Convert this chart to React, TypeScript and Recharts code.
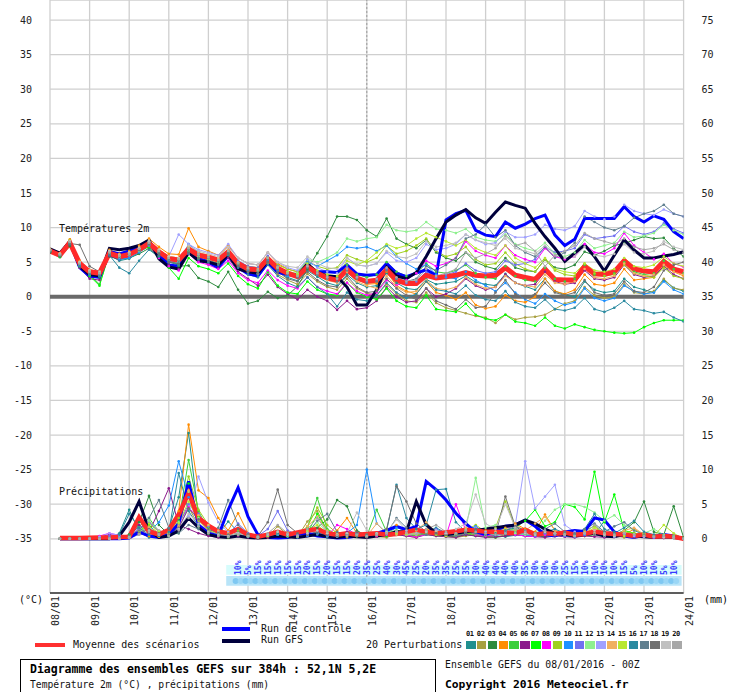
import React from 'react';
import { ComposedChart, Line, XAxis, YAxis, CartesianGrid, ReferenceLine, ReferenceArea } from 'recharts';

// 6-hourly steps from 08/01 00Z to 24/01 00Z (65 steps)
const dayLabels = ['08/01', '09/01', '10/01', '11/01', '12/01', '13/01', '14/01', '15/01', '16/01',
  '17/01', '18/01', '19/01', '20/01', '21/01', '22/01', '23/01', '24/01'];

const tempTicks = [-35, -30, -25, -20, -15, -10, -5, 0, 5, 10, 15, 20, 25, 30, 35, 40];
const rainTicks = [0, 5, 10, 15, 20, 25, 30, 35, 40, 45, 50, 55, 60, 65, 70, 75];

// temperature 2m, one value per step
const meanTemp = [6.6, 6.0, 7.8, 4.8, 3.6, 3.4, 6.3, 5.8, 6.1, 6.8, 7.7, 6.5, 5.5, 5.3, 6.9, 6.0,
  5.7, 5.3, 6.5, 4.8, 4.0, 3.9, 5.5, 4.1, 3.4, 2.9, 4.3, 3.4, 2.7, 2.4, 3.9, 2.7,
  2.2, 2.4, 3.9, 2.4, 1.9, 1.9, 3.1, 2.7, 2.9, 3.1, 3.5, 3.1, 3.0, 3.1, 4.2, 3.1,
  2.8, 2.5, 4.0, 2.5, 2.4, 2.4, 4.4, 3.3, 3.2, 3.6, 5.2, 4.0, 3.7, 3.6, 5.1, 4.0, 3.6];
const controlTemp = [6.8, 6.2, 7.9, 4.2, 3.0, 2.8, 6.5, 6.2, 6.6, 7.2, 8.0, 6.0, 4.6, 4.4, 6.7, 5.5,
  5.0, 4.2, 6.0, 4.2, 3.3, 3.0, 5.0, 3.5, 3.2, 3.0, 4.2, 3.6, 3.6, 3.5, 4.6, 3.3,
  3.1, 3.2, 4.8, 3.4, 2.9, 3.4, 3.9, 3.1, 11.1, 12.0, 12.5, 9.6, 8.9, 8.7, 10.8, 9.9,
  10.5, 11.3, 11.8, 8.9, 7.4, 8.3, 11.3, 11.3, 11.3, 11.3, 13.0, 11.6, 10.8, 11.7, 11.2, 9.4, 8.4];
const gfsTemp = [6.9, 6.3, 8.0, 4.4, 3.2, 3.0, 7.0, 6.8, 7.0, 7.4, 8.2, 5.5, 4.3, 4.0, 6.4, 5.2,
  5.0, 4.6, 6.1, 4.0, 3.6, 3.4, 5.2, 3.9, 3.3, 3.1, 4.7, 3.5, 3.0, 2.9, 1.4, -1.2,
  -1.2, 1.0, 4.3, 3.0, 2.6, 3.5, 5.8, 8.4, 10.8, 11.8, 12.6, 11.4, 10.6, 12.2, 13.7, 13.2,
  12.8, 10.6, 8.7, 7.0, 5.1, 6.3, 7.5, 5.8, 3.7, 6.0, 8.2, 6.75, 5.6, 5.6, 5.9, 6.1, 6.5];

// perturbations 01..20
const memberTemp = [
  [6.5, 5.9, 7.5, 4.3, 3.2, 3.0, 6.0, 5.2, 5.5, 6.4, 7.4, 6.0, 5.0, 4.8, 6.5, 5.6, 5.3, 4.8, 6.0, 4.3, 3.5, 3.2, 5.0, 3.6, 2.8, 2.3, 3.8, 2.9, 2.0, 1.6, 3.2, 2.0, 1.4, 1.6, 3.4, 2.0, 1.2, 1.0, 2.5, 1.8, 2.0, 2.2, 3.0, 2.1, 1.8, 1.6, 3.3, 2.0, 1.5, 1.0, 2.6, 0.8, 0.3, 0.0, 2.2, 1.0, 0.6, 0.8, 2.6, 1.4, 1.0, 0.6, 2.4, 1.3, 0.8],
  [6.7, 6.1, 7.7, 4.6, 3.4, 3.3, 6.1, 5.6, 6.0, 6.6, 7.6, 6.4, 5.4, 5.2, 6.8, 5.9, 5.6, 5.0, 6.2, 4.5, 3.6, 3.3, 4.8, 3.2, 2.4, 1.8, 3.3, 2.2, 1.4, 1.0, 2.6, 1.2, 0.5, 0.2, 1.8, 0.4, -0.6, -0.8, 0.6, -0.9, -1.6, -2.0, -2.4, -2.8, -3.0, -3.8, -2.6, -3.3, -3.0, -2.9, -2.6, -1.8, -1.0, -0.6, 1.4, 0.2, -0.2, 0.0, 1.8, 0.6, 0.4, 0.8, 2.6, 1.2, 1.0],
  [6.4, 5.7, 7.3, 4.4, 3.0, 2.8, 5.8, 5.4, 5.6, 6.2, 7.0, 5.6, 4.6, 4.4, 4.5, 2.7, 2.2, 1.4, 3.6, 1.0, -1.0, -0.6, 0.7, -0.2, 0.2, 1.5, 4.0, 6.3, 8.7, 11.6, 11.6, 11.1, 9.6, 8.7, 11.3, 8.4, 7.6, 7.0, 8.2, 6.4, 5.6, 5.2, 6.4, 5.0, 4.4, 4.0, 5.6, 4.2, 3.8, 3.6, 5.4, 4.2, 4.0, 4.6, 6.5, 6.0, 6.6, 7.4, 7.7, 8.2, 8.7, 8.4, 8.5, 7.0, 5.8],
  [6.9, 6.3, 8.3, 5.2, 3.9, 3.6, 6.8, 6.2, 6.6, 7.4, 8.4, 7.2, 6.2, 6.1, 9.9, 7.2, 6.6, 6.0, 7.4, 5.6, 4.8, 4.6, 6.4, 4.8, 4.0, 3.6, 5.0, 3.6, 2.8, 2.6, 4.2, 2.6, 1.8, 1.9, 3.6, 1.6, 0.8, 0.4, 2.2, 0.6, 0.2, -0.4, 0.6, -1.2, -1.7, -1.4, 0.2, -0.6, -0.8, 0.0, 2.6, 0.8, 0.4, 1.0, 3.2, 1.8, 1.6, 2.0, 4.0, 2.4, 2.6, 2.8, 4.4, 3.6, 3.0],
  [6.6, 6.0, 8.0, 4.6, 3.2, 1.8, 6.2, 5.8, 6.0, 6.8, 7.8, 6.4, 5.2, 4.6, 6.6, 5.6, 5.2, 4.8, 6.2, 4.6, 3.8, 3.6, 5.6, 4.0, 3.4, 3.0, 4.9, 3.6, 3.0, 2.8, 4.6, 3.2, 2.8, 3.2, 5.0, 3.6, 3.0, 3.4, 4.8, 3.6, 3.4, 3.8, 4.6, 3.4, 2.8, 2.6, 4.4, 3.0, 2.4, 2.2, 4.2, 2.6, 2.2, 2.6, 4.6, 3.2, 3.0, 3.4, 5.0, 3.6, 3.2, 3.4, 5.2, 4.0, 3.4],
  [6.6, 5.9, 7.6, 4.2, 2.6, 2.4, 5.9, 5.4, 5.8, 6.6, 7.5, 6.0, 4.6, 4.0, 6.2, 5.2, 4.8, 4.2, 5.6, 3.6, 2.6, 1.6, 3.2, 1.4, 0.4, -0.4, 1.0, 0.0, -0.6, -1.9, -0.6, -1.8, -1.6, -0.6, 1.4, 0.0, -0.8, -0.6, 1.2, 0.0, 0.4, 1.2, 2.6, 1.6, 1.0, 1.4, 3.2, 2.0, 1.6, 1.8, 3.6, 2.2, 1.8, 2.0, 3.8, 2.6, 2.4, 2.8, 4.6, 3.2, 2.8, 3.0, 4.4, 3.2, 2.6],
  [6.5, 5.8, 7.8, 4.4, 3.0, 1.6, 6.4, 6.0, 6.2, 6.6, 7.2, 5.8, 4.2, 2.6, 5.6, 4.4, 4.0, 3.4, 4.8, 3.0, 1.8, 1.2, 3.6, 1.6, 0.6, 0.4, 2.2, 1.0, 0.4, 0.2, 2.0, 0.6, 0.0, -0.4, 1.2, -0.6, -1.4, -1.6, 0.2, -1.8, -2.0, -2.2, -1.0, -2.6, -3.2, -3.4, -2.6, -3.6, -3.8, -4.2, -3.0, -4.2, -4.6, -4.0, -4.4, -4.8, -5.0, -5.2, -5.3, -5.2, -4.4, -3.8, -3.4, -3.4, -3.4],
  [6.7, 6.1, 7.9, 4.6, 3.4, 3.2, 6.4, 5.8, 6.0, 6.6, 7.4, 5.6, 4.4, 3.8, 6.2, 5.0, 4.6, 4.0, 5.2, 3.4, 2.4, 2.0, 3.8, 2.4, 1.6, 1.2, 2.8, 1.4, 0.8, 0.4, 2.0, 0.8, 0.2, 0.6, 2.4, 1.6, 2.4, 3.4, 5.2, 4.4, 4.8, 5.6, 8.0, 6.6, 6.0, 5.6, 7.4, 6.0, 5.4, 5.0, 7.0, 5.8, 5.4, 5.8, 7.6, 6.4, 6.2, 7.0, 9.2, 7.4, 6.4, 5.4, 6.2, 4.8, 4.3],
  [6.8, 6.2, 8.2, 5.0, 3.8, 3.6, 6.6, 6.0, 6.4, 7.0, 8.0, 6.8, 5.8, 5.6, 7.2, 6.2, 5.8, 5.4, 6.6, 5.0, 4.4, 4.2, 5.8, 4.6, 4.0, 3.6, 5.2, 4.4, 4.0, 4.2, 6.0, 5.4, 5.0, 5.6, 7.4, 6.2, 6.6, 7.4, 8.4, 6.6, 5.8, 6.2, 7.2, 5.4, 4.6, 4.8, 6.4, 4.8, 4.0, 3.6, 5.4, 3.8, 3.2, 3.0, 4.8, 3.4, 3.0, 3.2, 4.6, 3.4, 3.0, 2.8, 4.2, 3.0, 2.6],
  [6.6, 6.0, 7.8, 4.6, 3.2, 3.0, 6.2, 5.4, 5.6, 6.4, 7.4, 6.2, 5.2, 5.0, 7.6, 6.4, 5.8, 5.2, 6.4, 4.6, 3.8, 3.4, 5.2, 3.8, 3.0, 3.2, 5.0, 4.4, 5.2, 6.0, 7.2, 7.0, 7.2, 6.6, 7.4, 5.8, 4.8, 4.0, 4.6, 3.2, 2.8, 2.6, 3.6, 2.4, 1.6, 0.8, 2.0, 0.6, -0.4, -1.0, 0.4, -0.6, -1.2, -0.8, 1.2, -0.2, -0.6, -0.2, 1.6, 0.8, 0.4, 0.6, 2.2, 1.0, 0.4],
  [6.7, 6.1, 7.9, 4.8, 3.6, 3.4, 6.4, 5.8, 6.2, 6.8, 7.8, 6.6, 5.6, 5.4, 7.0, 6.2, 5.8, 5.4, 6.8, 5.2, 4.4, 4.2, 5.9, 4.4, 3.6, 3.2, 4.6, 3.6, 3.0, 2.6, 4.2, 2.8, 2.2, 2.4, 4.0, 2.6, 2.0, 2.2, 3.6, 2.8, 3.2, 3.6, 4.8, 3.8, 3.4, 3.6, 5.2, 4.6, 4.8, 5.4, 7.2, 6.4, 6.6, 7.0, 9.0, 8.4, 8.6, 8.8, 10.2, 9.4, 9.0, 9.4, 10.6, 9.8, 9.2],
  [6.6, 6.0, 7.7, 4.7, 3.5, 3.2, 6.2, 5.7, 6.0, 6.6, 7.6, 6.4, 5.4, 5.1, 6.7, 5.8, 5.4, 5.0, 6.4, 4.8, 4.0, 3.8, 5.6, 4.2, 3.6, 3.4, 5.4, 5.0, 5.6, 6.4, 8.4, 8.0, 8.4, 8.6, 10.4, 9.6, 9.4, 9.6, 10.8, 9.8, 9.6, 9.2, 9.8, 8.6, 8.2, 8.0, 9.0, 7.6, 7.0, 6.6, 7.8, 6.2, 5.8, 6.4, 8.2, 7.0, 7.4, 7.8, 9.4, 8.6, 8.8, 9.2, 10.4, 9.6, 9.0],
  [6.8, 6.2, 8.0, 5.0, 3.8, 3.6, 6.6, 6.0, 6.4, 7.0, 8.0, 6.6, 5.8, 9.0, 7.6, 6.8, 6.4, 6.0, 7.6, 5.6, 4.8, 4.6, 6.4, 5.0, 4.2, 3.8, 5.4, 4.2, 3.6, 3.4, 5.6, 4.6, 4.4, 4.8, 6.4, 5.2, 5.0, 5.6, 7.6, 6.8, 7.0, 7.6, 9.0, 8.2, 7.6, 7.8, 9.4, 8.6, 8.6, 9.0, 10.4, 9.8, 9.6, 10.2, 12.4, 11.6, 11.2, 11.6, 13.3, 12.4, 12.0, 11.8, 12.6, 12.0, 11.6],
  [6.8, 6.2, 8.1, 5.0, 3.8, 3.6, 6.6, 6.1, 6.4, 7.2, 8.2, 6.8, 5.8, 5.6, 7.2, 6.4, 6.0, 5.6, 6.8, 5.0, 4.2, 4.0, 5.6, 4.2, 3.4, 3.0, 4.4, 3.2, 2.4, 2.0, 3.6, 2.2, 1.6, 1.2, 3.0, 1.4, 0.6, 0.8, 2.4, 1.2, 1.0, 1.4, 2.8, 1.8, 1.2, 1.4, 3.0, 2.0, 1.6, 1.4, 3.2, 2.0, 1.8, 2.2, 4.0, 2.8, 2.6, 3.0, 4.8, 3.4, 3.0, 3.2, 4.6, 3.6, 3.2],
  [6.7, 6.1, 7.9, 4.9, 3.6, 3.4, 6.4, 5.9, 6.2, 6.8, 7.8, 6.6, 5.6, 5.4, 7.0, 6.0, 5.6, 5.2, 6.6, 4.8, 4.0, 3.8, 5.6, 4.2, 3.6, 3.2, 4.8, 3.8, 3.2, 3.0, 5.2, 4.6, 5.2, 6.4, 7.6, 7.0, 7.4, 8.4, 9.2, 8.6, 8.0, 7.4, 8.2, 7.0, 6.4, 6.0, 7.4, 5.6, 4.8, 4.2, 5.6, 4.0, 3.6, 3.4, 4.8, 3.8, 3.6, 4.0, 5.6, 4.4, 4.2, 4.6, 5.8, 4.8, 4.4],
  [6.5, 5.9, 7.6, 4.4, 3.2, 3.0, 6.0, 4.2, 3.4, 5.2, 6.8, 5.8, 5.0, 4.6, 6.2, 5.4, 5.0, 4.6, 6.0, 4.2, 3.2, 2.8, 4.6, 3.0, 2.0, 1.4, 2.8, 1.4, 0.4, -1.4, 0.6, -0.4, -0.6, 0.2, 2.0, 0.6, -0.2, 0.4, 2.2, 1.0, 0.8, 0.4, 1.6, 0.2, -0.4, -0.6, 0.8, -0.8, -1.4, -1.6, -0.4, -1.8, -2.0, -1.6, -0.2, -1.8, -2.2, -1.6, -0.6, -1.8, -2.0, -2.4, -2.2, -3.0, -3.6],
  [6.7, 6.1, 7.8, 4.7, 3.4, 3.2, 6.3, 5.8, 6.1, 6.7, 7.6, 6.4, 5.4, 5.2, 6.8, 6.0, 5.6, 5.2, 6.4, 4.8, 4.0, 3.8, 5.4, 4.0, 3.2, 2.8, 4.2, 3.2, 2.6, 2.2, 3.8, 2.6, 2.0, 2.2, 3.8, 2.6, 2.2, 2.6, 4.4, 3.8, 4.6, 5.6, 8.4, 9.0, 10.4, 8.6, 9.6, 7.4, 6.4, 5.8, 7.2, 5.6, 6.4, 7.8, 11.6, 10.8, 10.0, 9.6, 10.2, 11.4, 12.0, 12.4, 13.3, 12.0, 11.6],
  [6.6, 6.0, 7.7, 7.5, 4.4, 3.6, 6.2, 5.8, 6.2, 6.8, 7.6, 6.2, 5.0, 4.8, 6.4, 5.6, 5.2, 4.8, 6.2, 4.4, 3.6, 3.4, 5.0, 3.6, 2.6, 2.2, 3.6, 2.4, 1.6, 1.4, 3.0, 1.4, 0.6, 0.8, 2.6, 1.2, 0.2, -0.4, 1.2, -0.6, -1.2, -1.8, -0.4, -1.6, -1.4, 0.6, 2.4, 0.4, -0.2, 0.4, 2.0, 0.6, 0.2, 0.6, 2.4, 0.6, 0.2, 0.4, 2.2, 0.8, 0.6, 1.4, 3.8, 4.6, 5.0],
  [6.8, 6.2, 8.0, 5.0, 3.8, 3.6, 6.6, 6.0, 6.4, 7.0, 8.0, 6.8, 5.8, 5.6, 7.4, 6.6, 6.2, 5.8, 7.2, 5.6, 4.8, 4.6, 6.4, 5.0, 4.4, 4.2, 5.8, 4.8, 4.2, 4.0, 5.6, 4.6, 4.4, 4.8, 6.6, 5.8, 5.6, 6.2, 8.0, 7.2, 7.4, 7.8, 9.0, 8.2, 7.8, 7.4, 8.4, 7.0, 6.6, 6.2, 7.4, 6.0, 5.6, 5.8, 7.2, 6.0, 5.8, 6.2, 7.6, 6.4, 6.2, 6.6, 8.0, 7.2, 6.8],
  [6.7, 6.1, 7.9, 4.8, 3.6, 3.4, 6.4, 5.9, 6.2, 6.9, 7.8, 6.6, 5.6, 5.4, 7.0, 6.1, 5.7, 5.3, 6.6, 4.9, 4.1, 3.9, 5.6, 4.2, 3.4, 3.0, 4.4, 3.4, 2.8, 2.6, 4.0, 2.8, 2.4, 2.6, 4.2, 2.8, 2.2, 2.4, 4.0, 3.0, 3.4, 4.0, 6.4, 5.6, 6.2, 7.0, 8.8, 7.4, 7.8, 6.6, 4.4, 6.0, 6.6, 7.4, 9.2, 8.4, 8.0, 7.6, 8.4, 7.2, 6.8, 7.0, 7.6, 6.8, 6.4],
];

// precipitation (mm per 6h), steps 1..64
const meanRain = [0.1, 0.1, 0.1, 0.15, 0.2, 0.2, 0.25, 0.3, 3.1, 1.05, 0.6, 1.3, 3.5, 6.6, 3.0, 1.9,
  1.05, 0.8, 1.4, 0.6, 0.3, 0.6, 1.0, 0.6, 0.9, 1.2, 1.4, 0.8, 0.6, 0.8, 0.6, 0.7,
  0.8, 0.6, 0.7, 1.0, 1.3, 1.0, 0.8, 0.9, 1.1, 1.3, 1.2, 1.0, 1.0, 0.9, 0.8, 1.3,
  0.6, 0.8, 0.7, 0.9, 0.6, 0.7, 1.05, 0.8, 0.7, 0.6, 0.4, 0.6, 0.3, 0.4, 0.3, 0.0];
const controlRain = [0, 0, 0, 0, 0, 0, 0, 0.1, 1.0, 0.4, 0.2, 0.6, 2.2, 8.3, 2.0, 0.8,
  0.4, 4.2, 7.4, 3.2, 0.6, 0.2, 0.1, 0.2, 0.6, 0.8, 0.4, 0.3, 0.1, 0.2, 0.4, 0.6,
  0.8, 1.2, 1.8, 1.3, 1.8, 8.3, 7.1, 5.6, 3.7, 2.2, 1.0, 0.6, 1.2, 1.8, 2.0, 2.7,
  1.8, 0.6, 0.4, 1.0, 1.2, 1.05, 3.0, 2.7, 1.0, 0.4, 0.2, 0.5, 0.3, 0.6, 0.4, 0.0];
const gfsRain = [0, 0, 0, 0, 0, 0, 0.4, 2.4, 5.4, 1.2, 0.2, 0.4, 1.2, 3.0, 1.6, 0.6,
  0.3, 0.2, 0.4, 0.2, 0.1, 0.2, 0.4, 0.3, 0.2, 0.4, 0.6, 0.3, 0.2, 0.4, 0.3, 0.2,
  0.4, 0.6, 1.0, 1.0, 5.4, 2.0, 0.8, 0.6, 0.8, 1.0, 1.2, 1.4, 1.6, 1.8, 2.0, 2.7,
  2.2, 1.4, 0.8, 0.6, 0.4, 0.6, 0.8, 0.4, 0.3, 0.6, 0.4, 0.3, 0.2, 0.3, 0.2, 0.0];

const memberRain = [
  [0, 0, 0, 0, 0, 0, 0.8, 4.2, 1.0, 0.2, 0.4, 1.5, 6.0, 15.3, 3.0, 1.0, 0.6, 2.5, 1.0, 0.3, 0.2, 0.5, 0.8, 0.4, 0.6, 1.4, 0.6, 0.2, 0.3, 0.8, 0.4, 0.2, 0.5, 0.8, 1.2, 0.6, 0.4, 1.0, 1.6, 0.8, 0.4, 0.6, 1.2, 0.8, 0.4, 0.3, 0.5, 0.6, 0.4, 0.8, 0.6, 0.3, 0.5, 1.0, 0.6, 2.6, 1.0, 0.4, 0.2, 0.6, 0.3, 0.2, 0.1, 0],
  [0, 0, 0, 0, 0, 0, 0.2, 0.6, 1.2, 0.4, 0.3, 0.8, 2.4, 4.5, 2.0, 0.8, 0.4, 0.2, 0.6, 0.3, 0.1, 0.3, 1.8, 0.6, 0.3, 2.5, 4.0, 1.2, 0.3, 0.2, 0.4, 0.6, 0.3, 0.2, 0.6, 0.4, 0.2, 0.8, 0.6, 0.3, 0.2, 0.4, 0.6, 0.3, 0.2, 0.6, 1.4, 0.8, 0.4, 0.6, 0.8, 0.4, 0.3, 0.4, 0.6, 0.8, 0.4, 0.2, 0.3, 0.6, 0.3, 0.2, 0.2, 0],
  [0, 0, 0, 0, 0, 0, 0, 0.6, 2.4, 6.2, 2.0, 0.6, 0.8, 3.0, 1.6, 0.6, 0.3, 0.2, 0.4, 0.6, 0.2, 0.3, 0.6, 0.4, 0.3, 0.8, 1.6, 2.8, 5.6, 4.7, 1.2, 0.4, 0.3, 0.6, 1.0, 0.6, 0.4, 0.8, 0.6, 0.4, 0.3, 0.6, 0.4, 0.3, 0.2, 0.4, 0.8, 0.6, 0.4, 0.3, 0.6, 0.4, 0.3, 0.6, 0.8, 1.0, 0.6, 1.2, 2.4, 5.4, 1.0, 0.6, 4.7, 0.2],
  [0, 0, 0, 0, 0, 0, 0, 0.2, 0.8, 0.4, 0.3, 1.0, 4.0, 16.5, 7.0, 5.9, 3.0, 1.2, 3.7, 0.8, 0.3, 0.2, 0.6, 1.0, 0.4, 0.6, 0.8, 0.4, 1.2, 3.0, 0.8, 0.4, 0.6, 1.0, 2.0, 0.6, 0.4, 1.4, 1.0, 0.6, 0.4, 0.8, 0.6, 1.2, 0.8, 1.6, 2.2, 1.4, 1.0, 3.5, 1.2, 0.6, 0.4, 0.8, 0.6, 0.4, 0.3, 0.6, 1.4, 0.6, 0.4, 0.2, 0.2, 0],
  [0, 0, 0, 0, 0, 0, 0, 0.4, 1.8, 3.0, 1.0, 0.4, 2.6, 11.4, 4.0, 1.2, 0.6, 0.3, 0.8, 0.4, 0.2, 0.6, 0.8, 0.4, 0.3, 1.6, 5.9, 1.4, 0.6, 0.4, 0.6, 0.4, 4.2, 1.0, 0.6, 0.4, 0.8, 0.6, 0.4, 0.3, 0.6, 0.8, 0.4, 0.3, 0.5, 0.8, 0.6, 0.4, 0.3, 0.6, 0.4, 0.8, 0.6, 0.4, 0.6, 0.4, 0.3, 0.6, 0.8, 0.4, 0.3, 0.2, 0.3, 0],
  [0, 0, 0, 0, 0.3, 0.6, 0.4, 0.3, 2.0, 1.0, 4.0, 7.3, 2.0, 1.4, 0.8, 0.4, 0.2, 0.3, 0.4, 0.2, 0.1, 0.2, 0.6, 0.4, 0.2, 0.4, 0.8, 0.6, 0.3, 1.0, 0.6, 0.2, 0.3, 0.4, 0.6, 0.4, 0.2, 0.6, 0.4, 0.3, 0.2, 0.6, 0.4, 0.2, 0.3, 0.4, 0.6, 0.4, 0.3, 0.2, 0.4, 0.3, 0.2, 0.4, 0.3, 0.2, 0.3, 0.4, 0.2, 0.3, 0.2, 0.1, 0.2, 0],
  [0, 0, 0, 0, 0, 0, 0, 0.2, 1.2, 2.0, 0.6, 0.4, 1.8, 8.0, 3.2, 1.6, 0.8, 0.4, 0.6, 0.3, 0.2, 0.4, 0.6, 0.4, 0.3, 0.8, 3.6, 1.2, 0.4, 0.6, 0.4, 0.3, 0.6, 0.4, 0.8, 0.6, 0.4, 0.6, 0.8, 0.4, 0.6, 1.0, 0.6, 0.4, 0.6, 0.8, 1.6, 2.6, 4.2, 1.8, 2.4, 5.0, 4.6, 2.8, 9.7, 2.4, 6.4, 1.2, 0.8, 0.6, 0.4, 0.3, 0.4, 0],
  [0, 0, 0, 0, 0.4, 0.8, 0.5, 0.3, 1.4, 2.4, 1.2, 0.6, 1.6, 4.6, 2.8, 1.0, 0.6, 0.4, 0.8, 0.4, 0.2, 0.4, 0.8, 0.5, 0.3, 0.6, 0.8, 0.4, 2.0, 1.4, 0.6, 0.3, 0.4, 0.6, 0.8, 0.5, 0.3, 0.6, 0.8, 0.4, 5.0, 1.2, 0.6, 0.4, 0.6, 0.8, 0.6, 0.4, 0.3, 0.6, 0.8, 0.4, 0.3, 0.6, 0.8, 0.4, 0.3, 0.6, 0.4, 0.3, 0.2, 0.4, 0.3, 0],
  [0, 0, 0, 0, 0, 0, 0, 0.3, 1.0, 1.8, 0.8, 0.6, 3.0, 9.0, 4.2, 2.0, 1.0, 0.6, 1.2, 0.5, 0.3, 0.6, 1.0, 0.6, 0.4, 1.8, 4.5, 2.0, 0.8, 0.6, 0.4, 0.3, 0.5, 0.8, 1.2, 0.8, 0.5, 0.8, 1.0, 0.6, 0.5, 1.2, 2.0, 1.0, 1.6, 5.4, 1.6, 0.8, 0.6, 1.0, 0.8, 0.6, 0.4, 1.2, 1.8, 0.8, 0.6, 1.0, 0.8, 0.6, 0.4, 0.3, 0.2, 0],
  [0, 0, 0, 0, 0, 0, 0, 0.2, 0.6, 1.0, 2.4, 4.8, 11.2, 6.0, 2.0, 1.0, 0.6, 0.3, 0.6, 0.3, 0.2, 0.4, 0.6, 0.3, 0.2, 0.4, 0.8, 0.4, 0.3, 0.8, 2.0, 10.0, 2.2, 0.8, 1.6, 1.2, 0.8, 1.0, 1.4, 0.8, 0.6, 1.0, 1.8, 0.8, 0.5, 0.8, 1.2, 0.6, 0.4, 0.8, 0.6, 0.4, 0.3, 0.6, 0.8, 0.4, 0.3, 0.6, 0.4, 0.3, 0.2, 0.3, 0.2, 0],
  [0, 0, 0, 0, 0.2, 0.4, 0.3, 0.2, 1.6, 2.4, 1.0, 0.6, 2.0, 5.0, 3.6, 1.8, 1.0, 0.6, 2.2, 0.8, 0.4, 1.4, 4.0, 1.2, 0.6, 0.8, 1.0, 0.6, 0.4, 0.6, 0.8, 0.4, 0.6, 0.8, 1.0, 0.6, 0.8, 1.0, 1.4, 0.8, 0.6, 0.8, 1.6, 0.8, 0.6, 1.4, 1.0, 0.6, 0.4, 0.8, 0.6, 0.4, 0.6, 0.8, 0.6, 0.4, 0.3, 0.6, 0.4, 0.3, 0.2, 0.3, 0.2, 0],
  [0, 0, 0, 0, 0, 0, 0, 0.4, 1.2, 2.6, 1.2, 0.8, 2.4, 6.8, 3.0, 1.4, 0.8, 0.4, 0.8, 0.4, 0.3, 0.6, 1.0, 0.6, 0.4, 1.0, 2.4, 1.0, 0.6, 0.8, 0.6, 0.4, 0.8, 1.2, 1.0, 0.6, 0.8, 1.2, 1.0, 0.6, 0.8, 1.4, 8.8, 1.6, 2.0, 1.2, 0.8, 0.6, 0.8, 2.6, 4.2, 5.0, 5.0, 4.6, 3.8, 2.6, 3.4, 2.0, 1.2, 0.8, 1.4, 0.6, 0.4, 0],
  [0, 0, 0, 0, 0.3, 0.8, 0.5, 0.3, 1.0, 1.6, 0.8, 0.6, 1.4, 3.2, 9.0, 5.2, 2.4, 1.0, 0.8, 0.6, 0.3, 0.5, 0.8, 0.6, 0.4, 0.6, 0.8, 0.5, 0.4, 0.6, 0.8, 0.5, 0.6, 0.8, 1.0, 0.6, 0.8, 1.0, 1.2, 0.8, 0.6, 1.0, 1.6, 1.0, 0.8, 1.2, 2.0, 11.2, 4.4, 6.1, 7.8, 2.0, 1.0, 0.8, 0.6, 0.4, 0.6, 0.8, 0.4, 0.3, 0.4, 0.3, 0.2, 0],
  [0, 0, 0, 0, 0, 0, 0, 0.2, 0.8, 1.6, 0.8, 0.6, 1.8, 7.0, 3.4, 2.0, 1.2, 0.8, 0.6, 0.4, 0.3, 0.6, 1.0, 0.6, 0.4, 1.8, 3.2, 1.2, 0.6, 0.4, 0.6, 0.4, 2.2, 0.8, 0.6, 0.8, 1.2, 2.4, 1.0, 0.6, 0.8, 1.6, 0.8, 0.6, 1.0, 1.4, 2.0, 1.2, 2.2, 3.2, 1.2, 0.8, 0.6, 1.0, 0.8, 0.6, 0.4, 1.2, 1.6, 0.6, 0.4, 0.3, 0.2, 0],
  [0, 0, 0, 0, 0, 0, 0, 0.3, 1.0, 2.2, 1.0, 0.6, 2.2, 5.4, 2.6, 1.2, 0.6, 0.4, 0.8, 0.4, 0.2, 0.4, 0.8, 0.4, 0.3, 1.2, 2.0, 0.8, 0.4, 0.6, 0.4, 0.3, 0.6, 1.4, 0.8, 0.6, 0.8, 1.0, 0.6, 0.4, 0.6, 1.0, 0.8, 0.6, 0.8, 1.4, 1.2, 0.8, 0.6, 1.0, 0.8, 0.6, 0.4, 0.8, 1.6, 0.8, 0.6, 0.4, 0.6, 0.8, 0.4, 2.0, 0.8, 0],
  [0, 0, 0, 0, 0, 0, 0.6, 3.6, 1.6, 0.6, 0.4, 1.0, 9.5, 4.0, 1.8, 1.0, 0.6, 0.4, 0.8, 0.4, 0.3, 0.6, 0.8, 0.5, 0.4, 0.6, 0.8, 0.5, 0.4, 0.6, 0.8, 0.5, 0.8, 1.2, 7.8, 3.0, 1.4, 2.0, 7.1, 7.2, 2.4, 1.0, 0.8, 0.6, 0.8, 1.2, 1.6, 0.8, 0.6, 1.0, 1.4, 0.8, 0.6, 1.4, 3.6, 1.4, 0.8, 1.6, 2.6, 1.0, 0.6, 0.4, 0.3, 0],
  [0, 0, 0, 0, 0, 0, 0, 0.4, 1.2, 3.0, 5.6, 1.6, 0.8, 2.0, 1.4, 1.0, 1.6, 5.6, 2.0, 0.6, 0.3, 0.6, 1.0, 0.6, 0.4, 0.8, 2.6, 3.6, 1.0, 0.6, 0.4, 0.3, 0.6, 0.8, 3.0, 1.6, 0.8, 0.6, 0.8, 0.6, 0.4, 0.8, 1.4, 0.8, 0.6, 1.2, 1.8, 1.2, 0.8, 1.4, 2.2, 1.0, 0.8, 1.4, 2.2, 1.0, 1.8, 2.4, 1.2, 0.6, 0.4, 0.3, 0.2, 0],
  [0, 0, 0, 0, 0, 0, 0, 0.2, 0.8, 1.4, 0.8, 0.6, 1.6, 4.4, 2.8, 1.4, 0.8, 0.6, 1.4, 0.6, 0.4, 2.4, 7.1, 2.0, 0.8, 0.6, 1.0, 0.6, 0.4, 0.8, 1.0, 0.6, 0.8, 1.4, 7.6, 5.4, 2.2, 1.0, 0.8, 0.6, 0.8, 1.0, 1.4, 0.8, 0.6, 6.1, 1.8, 0.8, 0.6, 1.0, 0.8, 0.6, 0.4, 0.8, 0.6, 0.4, 0.6, 0.8, 0.6, 0.4, 0.3, 0.4, 0.2, 0],
  [0, 0, 0, 0, 0, 0, 0, 0.2, 0.6, 1.2, 0.6, 0.4, 1.4, 3.6, 2.2, 1.0, 0.6, 0.4, 0.8, 0.4, 0.3, 0.6, 1.0, 0.6, 0.4, 0.8, 1.2, 0.8, 0.6, 0.8, 3.8, 1.2, 0.8, 1.0, 2.8, 1.2, 0.8, 1.0, 1.2, 0.8, 1.4, 2.2, 6.4, 2.2, 1.4, 5.0, 1.6, 0.8, 0.6, 1.0, 0.8, 0.6, 0.4, 0.8, 1.2, 0.6, 0.4, 0.8, 0.6, 0.4, 0.3, 0.2, 0.2, 0],
  [0, 0, 0, 0, 0, 0, 0, 0.2, 0.6, 1.0, 0.6, 0.4, 1.2, 3.0, 1.8, 0.8, 0.4, 0.3, 0.6, 0.4, 0.2, 0.8, 2.0, 0.8, 0.4, 1.4, 3.0, 1.0, 0.6, 0.4, 0.6, 0.4, 0.6, 0.8, 1.0, 0.8, 0.6, 1.4, 2.0, 1.0, 0.8, 1.2, 1.0, 0.8, 0.6, 0.8, 1.4, 1.0, 0.8, 1.2, 0.8, 0.6, 0.4, 0.8, 2.0, 0.8, 0.6, 0.8, 0.6, 0.4, 0.3, 0.4, 0.2, 0],
];

const memberColors = ['#1f8f8f', '#a8a040', '#2e8b3e', '#ff8c00', '#3ccf3c', '#8b1a8b', '#00ff00', '#ff00ff',
  '#a0d020', '#1e90ff', '#7070f0', '#8ff08f', '#a0a0ff', '#f0b060', '#b8e830', '#2a8aa0',
  '#5f7f8f', '#707070', '#c0c0c0', '#a8a8a8'];

// probability of precipitation, from step 19 to 63
const chanceStart = 19;
const rainChance = [10, 5, 15, 15, 15, 15, 15, 20, 15, 20, 15, 15, 20, 35, 25, 40, 30, 45, 25, 20, 35, 35, 25,
  35, 30, 40, 40, 40, 40, 35, 30, 30, 30, 25, 15, 10, 10, 10, 10, 15, 5, 10, 10, 5, 10];
const CHANCE_ROW = -41.1;

const rows = meanTemp.map((_, i) => {
  const row: any = {
    i,
    tm: meanTemp[i], tc: controlTemp[i], tg: gfsTemp[i],
    pm: i ? meanRain[i - 1] : null, pc: i ? controlRain[i - 1] : null, pg: i ? gfsRain[i - 1] : null,
  };
  memberTemp.forEach((s, k) => { row['t' + k] = s[i]; });
  memberRain.forEach((s, k) => { row['p' + k] = i ? s[i - 1] : null; });
  const c = i - chanceStart;
  if (c >= 0 && c < rainChance.length) { row.pct = rainChance[c]; row.pctY = CHANCE_ROW; }
  return row;
});

const MONO = "'DejaVu Sans Mono', monospace";

const DateTick = (props: any) => {
  const { x, y, payload } = props;
  return (
    <text transform={`translate(${x + 5.5},${y}) rotate(-90)`} textAnchor="end" dominantBaseline="central"
      fontFamily={MONO} fontSize={10} fill="#222">
      {dayLabels[Math.round(payload.value / 4)]}
    </text>
  );
};

const ChanceMark = (props: any) => {
  const { cx, cy, payload, index } = props;
  if (!payload || payload.pct == null || cy == null) return <g key={'c' + index} />;
  return (
    <g key={'c' + index}>
      <circle cx={cx - 2.5} cy={cy} r={3} fill="#7fc8f2" />
      <circle cx={cx + 2.5} cy={cy} r={3} fill="#9ad6f6" />
      <text transform={`translate(${cx + 3},${cy - 6}) rotate(-90)`} fontFamily={MONO} fontSize={8}
        fontWeight="bold" fill="#3a3aff">{payload.pct}%</text>
    </g>
  );
};

const txt = (extra: React.CSSProperties): React.CSSProperties => ({
  position: 'absolute', fontFamily: MONO, fontSize: 10, lineHeight: '12px', color: '#111', whiteSpace: 'pre', ...extra,
});

export default function App() {
  return (
    <div style={{ position: 'relative', width: 732, height: 692, background: '#fff', overflow: 'hidden' }}>
      <style>{'body{margin:0}'}</style>
      <ComposedChart width={732} height={640} data={rows} margin={{ top: 0, right: 0, bottom: 0, left: 0 }}>
        <XAxis dataKey="i" type="number" domain={[0, 64]} ticks={[0, 4, 8, 12, 16, 20, 24, 28, 32, 36, 40, 44, 48, 52, 56, 60, 64]}
          height={47} tickSize={0} tickMargin={3} tick={<DateTick />} axisLine={{ stroke: '#333', strokeWidth: 1.5 }}
          interval={0} allowDataOverflow />
        <YAxis yAxisId="t" domain={[-42.84, 42.9]} ticks={tempTicks} width={50} tickSize={0} tickMargin={18}
          axisLine={false} interval={0} allowDataOverflow
          tick={{ fill: '#222', fontSize: 10, fontFamily: MONO }} />
        <YAxis yAxisId="r" orientation="right" domain={[-7.84, 77.9]} ticks={rainTicks} width={48.4} tickSize={0}
          tickMargin={18} axisLine={false} interval={0} allowDataOverflow
          tick={{ fill: '#222', fontSize: 10, fontFamily: MONO }} />
        <CartesianGrid yAxisId="t" stroke="#cfcfcf" strokeWidth={1.3} />
        <ReferenceLine yAxisId="t" x={32} stroke="#9a9a9a" strokeDasharray="2 2" />
        <ReferenceArea yAxisId="t" x1={17.8} x2={63.8} y1={-40.2} y2={-38.8} fill="#d6fcfc" fillOpacity={1} stroke="none" />
        <ReferenceArea yAxisId="t" x1={17.8} x2={63.8} y1={-41.8} y2={-40.4} fill="#b8e4f8" fillOpacity={1} stroke="none" />
        <ReferenceLine yAxisId="t" y={0} stroke="#6a6a6a" strokeWidth={4} />
        {memberTemp.map((_, k) => (
          <Line key={'t' + k} yAxisId="t" dataKey={'t' + k} stroke={memberColors[k]} strokeWidth={1}
            dot={{ r: 1.3, fill: memberColors[k], stroke: 'none' }} activeDot={false} isAnimationActive={false} />
        ))}
        {memberRain.map((_, k) => (
          <Line key={'p' + k} yAxisId="r" dataKey={'p' + k} stroke={memberColors[k]} strokeWidth={1}
            dot={{ r: 1.3, fill: memberColors[k], stroke: 'none' }} activeDot={false} isAnimationActive={false} />
        ))}
        <Line yAxisId="t" dataKey="tc" stroke="#0000ff" strokeWidth={3} dot={false} isAnimationActive={false} />
        <Line yAxisId="r" dataKey="pc" stroke="#0000ff" strokeWidth={3} dot={false} isAnimationActive={false} />
        <Line yAxisId="t" dataKey="tg" stroke="#00003c" strokeWidth={3} dot={false} isAnimationActive={false} />
        <Line yAxisId="r" dataKey="pg" stroke="#00003c" strokeWidth={3} dot={false} isAnimationActive={false} />
        <Line yAxisId="t" dataKey="tm" stroke="#ff2a2a" strokeWidth={5} dot={false} isAnimationActive={false} />
        <Line yAxisId="r" dataKey="pm" stroke="#ff2a2a" strokeWidth={4.5} dot={false} isAnimationActive={false} />
        <Line yAxisId="t" dataKey="pctY" stroke="none" dot={<ChanceMark />} activeDot={false} isAnimationActive={false} />
      </ComposedChart>

      <div style={txt({ left: 59, top: 223 })}>Températures 2m</div>
      <div style={txt({ left: 59, top: 486 })}>Précipitations</div>
      <div style={txt({ left: 19, top: 594 })}>(°C)</div>
      <div style={txt({ left: 704, top: 594, color: '#000' })}>(mm)</div>

      <div style={{ position: 'absolute', left: 222, top: 627, width: 28, height: 4, background: '#0000ff' }} />
      <div style={txt({ left: 261, top: 623 })}>Run de contrôle</div>
      <div style={{ position: 'absolute', left: 222, top: 639, width: 28, height: 4, background: '#00003c' }} />
      <div style={txt({ left: 261, top: 634 })}>Run GFS</div>
      <div style={{ position: 'absolute', left: 35, top: 643, width: 30, height: 4, background: '#ff3030' }} />
      <div style={txt({ left: 73, top: 639 })}>Moyenne des scénarios</div>
      <div style={txt({ left: 366, top: 639 })}>20 Perturbations</div>
      {memberColors.map((c, k) => (
        <React.Fragment key={'sw' + k}>
          <div style={txt({ left: 466 + k * 10.85, top: 630, fontSize: 7, lineHeight: '9px', fontWeight: 'bold', letterSpacing: -0.4 })}>
            {String(k + 1).padStart(2, '0')}
          </div>
          <div style={{ position: 'absolute', left: 466 + k * 10.85, top: 641, width: 9.5, height: 8, background: c }} />
        </React.Fragment>
      ))}

      <div style={{ position: 'absolute', left: 20, top: 659, width: 416, height: 40, border: '1px solid #000', boxSizing: 'border-box' }} />
      <div style={txt({ left: 30, top: 662, fontSize: 11.5, lineHeight: '14px', fontWeight: 'bold', color: '#000' })}>
        Diagramme des ensembles GEFS sur 384h : 52,1N 5,2E
      </div>
      <div style={txt({ left: 30, top: 679, fontSize: 9.7 })}>Température 2m (°C) , précipitations (mm)</div>
      <div style={txt({ left: 445, top: 659, fontSize: 9.8 })}>Ensemble GEFS du 08/01/2016 - 00Z</div>
      <div style={txt({ left: 445, top: 678, fontSize: 11.3, lineHeight: '14px', fontWeight: 'bold', color: '#000' })}>
        Copyright 2016 Meteociel.fr
      </div>
    </div>
  );
}
